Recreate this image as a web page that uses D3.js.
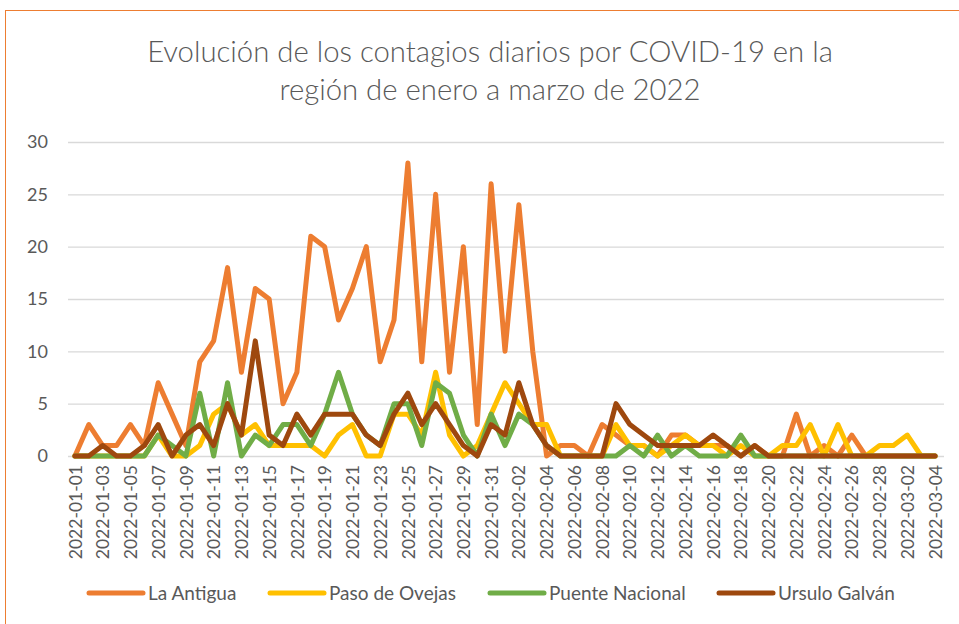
<!DOCTYPE html>
<html>
<head>
<meta charset="utf-8">
<script src="https://cdn.jsdelivr.net/npm/d3@7"></script>
<style>
  body { margin: 0; background: #fff; }
  text { font-family: Lato, "Open Sans", sans-serif; fill: #595959; }
</style>
</head>
<body>
<div id="chart"></div>
<script>
// categories: one per day, 2022-01-01 .. 2022-03-04
const fmt = d3.timeFormat("%Y-%m-%d");
const dates = d3.range(63).map(i => fmt(d3.timeDay.offset(new Date(2022, 0, 1), i)));

// daily cases per municipality
const laAntigua = [0,3,1,1,3,1,7,4,1,9,11,18,8,16,15,5,8,21,20,13,16,20,9,13,28,9,25,8,20,3,26,10,24,10,0,1,1,0,3,2,1,1,0,2,2,1,1,1,0,1,0,0,4,0,1,0,2,0,0,0,0,0,0];
const pasoDeOvejas = [0,0,0,0,0,0,2,0,0,1,4,5,2,3,1,1,1,1,0,2,3,0,0,4,4,2,8,2,0,1,4,7,5,3,3,0,0,0,0,3,1,1,0,1,2,1,1,0,1,0,0,1,1,3,0,3,0,0,1,1,2,0,0];
const puenteNacional = [0,0,0,0,0,0,2,1,0,6,0,7,0,2,1,3,3,1,4,8,4,2,1,5,5,1,7,6,2,0,4,1,4,3,1,0,0,0,0,0,1,0,2,0,1,0,0,0,2,0,0,0,0,0,0,0,0,0,0,0,0,0,0];
const ursuloGalvan = [0,0,1,0,0,1,3,0,2,3,1,5,2,11,2,1,4,2,4,4,4,2,1,4,6,3,5,3,1,0,3,2,7,3,1,0,0,0,0,5,3,2,1,1,1,1,2,1,0,1,0,0,0,0,0,0,0,0,0,0,0,0,0];

const seriesNames = ["La Antigua", "Paso de Ovejas", "Puente Nacional", "Ursulo Galván"];
const seriesColors = ["#ED7D31", "#FFC000", "#70AD47", "#9E480E"];
const yTicks = [0, 5, 10, 15, 20, 25, 30];
const xTickLabels = dates.filter((d, i) => i % 2 === 0);

const series = [laAntigua, pasoDeOvejas, puenteNacional, ursuloGalvan];

const width = 959;
const height = 624;
const plot = { left: 68, right: 944, top: 142, bottom: 456 };

const svg = d3.select("#chart")
  .append("svg")
  .attr("width", width)
  .attr("height", height);

// chart frame
svg.append("rect")
  .attr("x", 5.5)
  .attr("y", 10.5)
  .attr("width", 1000)
  .attr("height", 700)
  .attr("fill", "none")
  .attr("stroke", "#ED7D31")
  .attr("stroke-width", 1);

// title, sized to the width it has in the picture
const title = svg.append("g").attr("font-weight", 300);
const t1 = title.append("text")
  .attr("x", 490).attr("y", 62)
  .attr("text-anchor", "middle")
  .attr("font-size", 28)
  .text("Evolución de los contagios diarios por COVID-19 en la");
const fs = 28 * 686 / t1.node().getComputedTextLength();
t1.attr("font-size", fs);
title.append("text")
  .attr("x", 490).attr("y", 100)
  .attr("text-anchor", "middle")
  .attr("font-size", fs)
  .text("región de enero a marzo de 2022");

const x = d3.scalePoint()
  .domain(dates)
  .range([plot.left, plot.right - 2])
  .padding(0.5);

const y = d3.scaleLinear()
  .domain([0, 30])
  .range([plot.bottom, plot.top]);

// y axis with gridlines
const yAxis = svg.append("g")
  .attr("transform", `translate(${plot.left},0)`)
  .call(d3.axisLeft(y).tickValues(yTicks).tickSize(-(plot.right - plot.left)).tickPadding(20));
yAxis.select(".domain").remove();
yAxis.selectAll("line").attr("stroke", "#D9D9D9").attr("stroke-width", 1.3);
yAxis.selectAll("text").attr("font-size", 18).attr("fill", "#595959");

// x axis, labels turned upright
const xAxis = svg.append("g")
  .attr("transform", `translate(0,${plot.bottom})`)
  .call(d3.axisBottom(x).tickValues(xTickLabels).tickSize(0));
xAxis.select(".domain").remove();
xAxis.selectAll("text")
  .attr("font-size", 17.5)
  .attr("fill", "#595959")
  .attr("text-anchor", "end")
  .attr("transform", "rotate(-90)")
  .attr("x", -9)
  .attr("y", 0)
  .attr("dy", "0.35em");

// lines
const line = d3.line()
  .x((d, i) => x(dates[i]))
  .y(d => y(d));

svg.append("g")
  .selectAll("path")
  .data(series)
  .join("path")
  .attr("d", line)
  .attr("fill", "none")
  .attr("stroke", (d, i) => seriesColors[i])
  .attr("stroke-width", 5)
  .attr("stroke-linejoin", "round")
  .attr("stroke-linecap", "round");

// legend
const legendX = [89, 270, 490, 719];
const legend = svg.append("g")
  .selectAll("g")
  .data(seriesNames)
  .join("g")
  .attr("transform", (d, i) => `translate(${legendX[i]},593)`);
legend.append("line")
  .attr("x1", 0).attr("x2", 54)
  .attr("stroke", (d, i) => seriesColors[i])
  .attr("stroke-width", 5)
  .attr("stroke-linecap", "round");
legend.append("text")
  .attr("x", 59)
  .attr("dy", "0.35em")
  .attr("font-size", 19)
  .text(d => d);
</script>
</body>
</html>
